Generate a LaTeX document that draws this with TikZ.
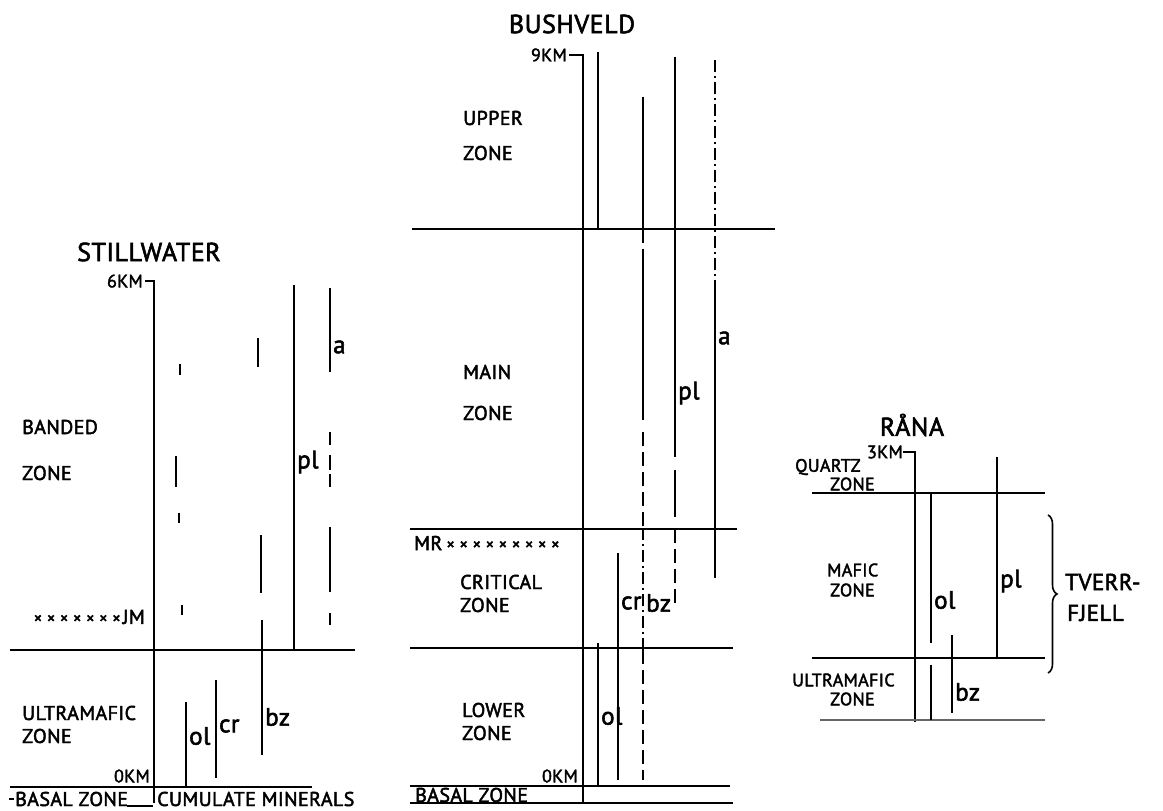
\documentclass[tikz,border=0pt]{standalone}
\usepackage{fontspec}
\setmainfont[FakeBold=2.2,LetterSpace=2]{PT Sans}
\usetikzlibrary{decorations.pathreplacing}
\newcommand{\xm}{{\fontsize{17}{17}\selectfont ×}}
\newcommand{\xg}{\hspace{4.5pt}}
\begin{document}
\begin{tikzpicture}[x=1pt,y=-1pt,
  zoneline/.style={line width=1.8pt},
  axisline/.style={line width=1.8pt},
  mineral/.style={line width=2.4pt},
  mindash/.style={line width=2.4pt,dash pattern=on 14pt off 6pt},
  mindot/.style={line width=2.2pt,dash pattern=on 12pt off 4pt on 2pt off 4pt},
  zonelabel/.style={font=\fontsize{20}{20}\selectfont,anchor=west,inner sep=0pt},
  ranalabel/.style={font=\fontsize{18}{18}\selectfont,anchor=west,inner sep=0pt},
  minlabel/.style={font=\fontsize{25}{25}\selectfont,anchor=west,inner sep=0pt},
  kmlabel/.style={font=\fontsize{18}{18}\selectfont,anchor=east,inner sep=0pt},
  titlelabel/.style={font=\fontsize{26}{26}\selectfont,inner sep=0pt}]
\useasboundingbox[fill=white] (0,0) rectangle (1163,811);

% ================= STILLWATER =================
\node[titlelabel] (swt) at (149,252) {STILLWATER};
\node[kmlabel] (sw6) at (143,281) {6KM};
\node[kmlabel] (sw0) at (150,776) {0KM};
\draw[axisline] (145,281) -- (154,281) -- (154,803);
\draw[zoneline] (10,650) -- (355,650);
\draw[zoneline] (10,787) -- (312,787);
\node[zonelabel] (swb1) at (22,427) {BANDED};
\node[zonelabel] (swb2) at (22,473) {ZONE};
\node[zonelabel] (swu1) at (22,713) {ULTRAMAFIC};
\node[zonelabel] (swu2) at (22,736) {ZONE};
\node[zonelabel,anchor=east] (swjm) at (145,617) {\xm\xg\xm\xg\xm\xg\xm\xg\xm\xg\xm\xg\xm\hspace{2pt}JM};
\node[zonelabel] (swbz) at (15,799) {BASAL ZONE};
\node[zonelabel] (swcm) at (157,799) {CUMULATE MINERALS};
\draw[line width=1.6pt] (9,799) -- (14,799);
\draw[line width=1.6pt] (127,806) -- (153,806);
% column 1 (unlabelled)
\draw[mineral] (180,364) -- (180,375);
\draw[mineral] (176,456) -- (176,487);
\draw[mineral] (179,513) -- (179,523);
\draw[mineral] (182,605) -- (182,615);
% ol
\draw[mineral] (186,702) -- (186,787);
\node[minlabel] (swol) at (189,736) {ol};
% cr
\draw[mineral] (216,680) -- (216,778);
\node[minlabel] (swcr) at (219,726) {cr};
% bz
\draw[mineral] (258,338) -- (258,367);
\draw[mineral] (261,535) -- (261,593);
\draw[mineral] (262,620) -- (262,755);
\node[minlabel] (swbzl) at (265,717) {bz};
% pl
\draw[mineral] (294,285) -- (294,650);
\node[minlabel] (swpl) at (297,462) {pl};
% a
\draw[mineral] (330,288) -- (330,372);
\draw[mineral] (330,432) -- (330,445);
\draw[mineral] (330,455) -- (330,470);
\draw[mineral] (330,474) -- (330,487);
\draw[mineral] (330,527) -- (330,592);
\draw[mineral] (330,613) -- (330,625);
\node[minlabel] (swa) at (333,347) {a};

% ================= BUSHVELD =================
\node[titlelabel] (bvt) at (572,24) {BUSHVELD};
\node[kmlabel] (bv9) at (567,55) {9KM};
\node[kmlabel] (bv0) at (578,776) {0KM};
\draw[axisline] (569,55) -- (583,55) -- (583,803);
\draw[zoneline] (412,229) -- (775,229);
\draw[zoneline] (410,529) -- (737,529);
\draw[zoneline] (410,648) -- (733,648);
\draw[zoneline] (410,786) -- (730,786);
\draw[zoneline] (410,803) -- (733,803);
\node[zonelabel] (bvu1) at (463,118) {UPPER};
\node[zonelabel] (bvu2) at (463,153) {ZONE};
\node[zonelabel] (bvm1) at (463,372) {MAIN};
\node[zonelabel] (bvm2) at (463,413) {ZONE};
\node[zonelabel] (bvc1) at (460,582) {CRITICAL};
\node[zonelabel] (bvc2) at (460,605) {ZONE};
\node[zonelabel] (bvl1) at (462,710) {LOWER};
\node[zonelabel] (bvl2) at (462,733) {ZONE};
\node[zonelabel] (bvmr) at (414,543) {MR\hspace{4pt}\xm\xg\xm\xg\xm\xg\xm\xg\xm\xg\xm\xg\xm\xg\xm\xg\xm};
\node[zonelabel] (bvbz) at (415,795) {BASAL ZONE};
% column 2 (unlabelled)
\draw[mineral] (598,52) -- (598,229);
% bz column
\draw[mineral] (643,97) -- (643,229);
\draw[mindash] (643,229) -- (643,253);
\draw[mineral] (643,253) -- (643,420);
\draw[mindash] (643,432) -- (643,528);
\draw[mindot] (643,528) -- (643,650);
\draw[mindash] (643,650) -- (643,780);
\node[minlabel] (bvbzl) at (646,603) {bz};
% pl
\draw[mineral] (675,57) -- (675,457);
\draw[mineral] (675,470) -- (675,517);
\draw[mindash] (675,529) -- (675,608);
\node[minlabel] (bvpl) at (678,393) {pl};
% a
\draw[mindot] (715,60) -- (715,287);
\draw[mineral] (715,287) -- (715,578);
\node[minlabel] (bva) at (718,338) {a};
% ol
\draw[mineral] (598,643) -- (598,786);
\node[minlabel] (bvol) at (601,716) {ol};
% cr
\draw[mineral] (618,553) -- (618,780);
\node[minlabel] (bvcr) at (621,603) {cr};

% ================= RANA =================
\node[titlelabel] (rnt) at (912,425) {RÅNA};
\node[kmlabel] (rn3) at (903,452) {3KM};
\draw[axisline] (903,452) -- (915,452) -- (915,722);
\draw[zoneline] (812,493) -- (1045,493);
\draw[zoneline] (812,658) -- (1045,658);
\draw[line width=1.2pt,black!60] (820,720) -- (1045,720);
\node[ranalabel] (rnq1) at (795,467) {QUARTZ};
\node[ranalabel] (rnq2) at (830,484) {ZONE};
\node[ranalabel] (rnm1) at (827,570) {MAFIC};
\node[ranalabel] (rnm2) at (830,590) {ZONE};
\node[ranalabel] (rnu1) at (792,680) {ULTRAMAFIC};
\node[ranalabel] (rnu2) at (830,699) {ZONE};
% ol
\draw[mineral] (931,493) -- (931,643);
\draw[mineral] (931,665) -- (931,720);
\node[minlabel] (rnol) at (934,600) {ol};
% bz
\draw[mineral] (952,635) -- (952,713);
\node[minlabel] (rnbz) at (955,692) {bz};
% pl
\draw[mineral] (997,457) -- (997,658);
\node[minlabel] (rnpl) at (1000,581) {pl};
% brace
\draw[line width=1.6pt,decorate,decoration={brace,amplitude=9pt}] (1048,515) -- (1048,673);
\node[zonelabel,font=\fontsize{23}{23}\selectfont] (rntv1) at (1065,582) {TVERR-};
\node[zonelabel,font=\fontsize{23}{23}\selectfont] (rntv2) at (1067,613) {FJELL};
\end{tikzpicture}
\end{document}
